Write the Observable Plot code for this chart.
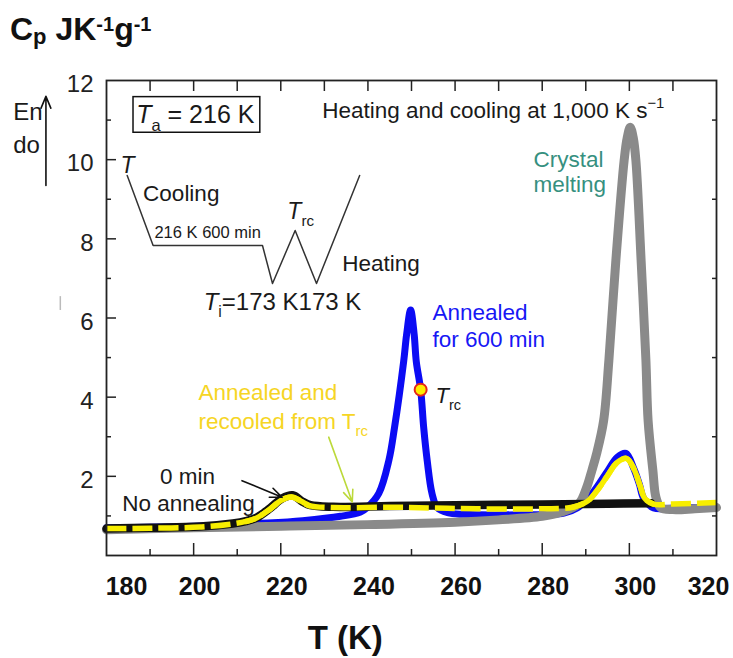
<!DOCTYPE html>
<html><head><meta charset="utf-8">
<script src="https://cdn.jsdelivr.net/npm/d3@7"></script>
<script src="https://cdn.jsdelivr.net/npm/@observablehq/plot@0.6"></script>
<style>
body{margin:0;background:#fff;}
#wrap{position:relative;width:733px;height:658px;font-family:"Liberation Sans",Arial,sans-serif;color:#111;overflow:hidden;}
#title{position:absolute;left:10px;top:13px;font-weight:bold;font-size:32px;line-height:1;white-space:nowrap;}
#title .sb{font-size:22px;vertical-align:-4px;}
#title .sp{font-size:20px;vertical-align:9px;}
#chart{position:absolute;left:0;top:58px;}
</style></head><body>
<div id="wrap"><div id="title">C<span class="sb">p</span> JK<span class="sp">-1</span>g<span class="sp">-1</span></div><div id="chart"></div></div>
<script>
// ---- data (T in K, Cp in J K^-1 g^-1) ----
const grayT  = [180,200,220,240,260,270,280,284.2,288.4,290.2,291.4,292.5,294.1,295.3,296.9,298.8,299.5,300.2,300.9,301.5,302.7,303.8,304.3,305.4,306.1,307.2,310,315,320];
const grayCp = [0.65,0.7,0.74,0.78,0.84,0.9,0.99,1.09,1.31,1.72,2.15,2.58,3.41,4.93,7.45,9.98,10.55,10.82,10.55,9.98,7.45,4.93,3.41,2.15,1.47,1.21,1.16,1.18,1.21];
const blueT  = [180,200,217,225,233.7,238.3,239.8,242.5,244.8,246.1,248.2,248.9,249.8,250.6,251.1,252.1,252.8,253.6,254.7,255.9,258.3,262,275,285,288,290.5,293,295.1,297.2,299.2,301,302.3,303.3,305.6,310,320];
const blueCp = [0.7,0.74,0.82,0.88,0.99,1.1,1.21,1.57,2.4,3.23,4.9,5.6,6.2,5.6,4.9,4.19,3.23,2.4,1.57,1.21,1.08,1.04,1.03,1.07,1.2,1.44,1.8,2.15,2.48,2.58,2.2,1.8,1.44,1.2,1.2,1.22];
const blackT  = [180,190,201.5,209,212,214.5,217.5,220.3,222.7,225,226.8,232,245,260,280,295,305];
const blackCp = [0.68,0.7,0.73,0.81,0.87,0.96,1.19,1.44,1.52,1.36,1.27,1.23,1.25,1.27,1.29,1.31,1.32];
const yellowT  = [180,190,201.5,209,212,214.5,217.5,220.3,222.5,224.5,226.5,232,245,255,265,280,287,290.5,293,295,297.2,299.4,301,302.5,303.5,305.5,310,320];
const yellowCp = [0.68,0.69,0.72,0.8,0.86,0.95,1.17,1.41,1.48,1.38,1.26,1.21,1.22,1.2,1.18,1.18,1.22,1.38,1.7,2.02,2.35,2.45,2.2,1.75,1.45,1.3,1.3,1.34];
const yellowSolid = [[212,228],[286,306]];
const trcPoint = [{T:252.1, cp:4.19}];

// ticks
const xLabels = [180,200,220,240,260,280,300,320];
const xMajor = [200,220,240,260,280,300];
const xMinor = [190,210,230,250,270,290,310];
const xTop = [190,200,210,220,230,240,250,260,270,280,290,300,310];
const yLabels = [2,4,6,8,10,12];
const yMajor = [2,4,6,8,10];
const yMinor = [1,3,5,7,9,11];

// schematic of the thermal protocol (in data coordinates)
const schemeT  = [184.75,190.7,215.8,218.1,223.3,228.2,238.1];
const schemeCp = [9.6,7.83,7.83,6.87,8.21,6.87,9.6];

// annotations (*x* italic, _{x} subscript, ^{x} superscript)
const notes = [
  {text:"Heating and cooling at 1,000 K s^{\u22121}", T:229.5, cp:11.24, size:22.5, color:"#1a1a1a"},
  {text:"*T*_{a} = 216 K", T:186.8, cp:11.12, size:25, color:"#1a1a1a"},
  {text:"*T*", T:183.2, cp:9.85, size:23, color:"#1a1a1a"},
  {text:"Cooling", T:188.4, cp:9.15, size:22.5, color:"#1a1a1a"},
  {text:"216 K 600 min", T:191.0, cp:8.15, size:16.5, color:"#1a1a1a"},
  {text:"*T*_{rc}", T:221.5, cp:8.69, size:23, color:"#1a1a1a"},
  {text:"Heating", T:234.1, cp:7.38, size:22.5, color:"#1a1a1a"},
  {text:"*T*_{i}=173 K173 K", T:202.3, cp:6.39, size:24, color:"#1a1a1a"},
  {text:"Crystal\nmelting", T:278.0, cp:9.71, size:22.5, color:"#36907f", lh:1.11},
  {text:"Annealed\nfor 600 min", T:254.8, cp:5.82, size:22.5, color:"#1717f5", lh:1.2},
  {text:"Annealed and\nrecooled from T_{rc}", T:201.1, cp:3.8, size:22.5, color:"#f6d524", lh:1.29},
  {text:"0 min", T:192.3, cp:2.0, size:22.5, color:"#1a1a1a"},
  {text:"No annealing", T:183.6, cp:1.31, size:22.5, color:"#1a1a1a"},
  {text:"*T*_{rc}", T:255.5, cp:4.02, size:22, color:"#1a1a1a"},
  {text:"En\ndo", T:158.6, cp:10.85, size:24, color:"#1a1a1a", lh:1.37}
];
const boxRect = [{x1:186.2, x2:215.3, y1:10.68, y2:11.58}];
const arrows = [
  {x1:166.1, y1:9.35, x2:166.1, y2:11.6, color:"#111"},
  {x1:211.1, y1:1.89, x2:220.3, y2:1.47, color:"#111"},
  {x1:231.0, y1:2.99, x2:236.4, y2:1.35, color:"#bcd93a"}
];
const strayMark = [{T:169.4, y1:6.19, y2:6.54}];

const toRows = (T, C) => T.map((t, i) => ({T: t, cp: C[i]}));
const gray = toRows(grayT, grayCp);
const blue = toRows(blueT, blueCp);
const black = toRows(blackT, blackCp);
const yellow = toRows(yellowT, yellowCp);
const yellowPeaks = yellowSolid.map(([a, b]) => yellow.filter(d => d.T >= a && d.T <= b));

const sans = "'Liberation Sans',Arial,sans-serif";

const textMarks = notes.map(n => Plot.text([n], {
  x: "T", y: "cp", text: "text", fontSize: n.size, fill: n.color,
  textAnchor: "start", lineAnchor: "middle", lineHeight: n.lh ?? 1, fontFamily: sans
}));

const labelAxis = (ticks, dx) => Plot.axisX(ticks, {anchor: "bottom", tickSize: 0, tickPadding: 22, label: null, dx, fontSize: 25, fontWeight: "bold", fontFamily: sans, fill: "#111"});
const tickOpts = {tickFormat: () => "", label: null, stroke: "#222", strokeWidth: 1.5};

const plot = Plot.plot({
  width: 733, height: 600,
  marginLeft: 106, marginRight: 17, marginTop: 22, marginBottom: 103,
  x: {domain: [180, 320], label: null},
  y: {domain: [0, 12], label: null},
  style: {fontFamily: sans, background: "#fff", color: "#1a1a1a", overflow: "visible"},
  marks: [
    Plot.line(blue, {x: "T", y: "cp", stroke: "#0b0bf4", strokeWidth: 7, curve: "catmull-rom"}),
    Plot.line(gray, {x: "T", y: "cp", stroke: "#8a8a8a", strokeWidth: 9, curve: "catmull-rom"}),
    Plot.line(black, {x: "T", y: "cp", stroke: "#111", strokeWidth: 8.5, curve: "catmull-rom"}),
    Plot.line(yellow, {x: "T", y: "cp", stroke: "#f7ee00", strokeWidth: 5.5, curve: "catmull-rom", strokeDasharray: "20,6", strokeLinecap: "butt"}),
    ...yellowPeaks.map(seg => Plot.line(seg, {x: "T", y: "cp", stroke: "#f7ee00", strokeWidth: 5.5, curve: "catmull-rom"})),
    Plot.dot(trcPoint, {x: "T", y: "cp", r: 6, fill: "#ffee00", stroke: "#e4261c", strokeWidth: 2}),
    Plot.line(toRows(schemeT, schemeCp), {x: "T", y: "cp", stroke: "#333", strokeWidth: 1.5, curve: "linear"}),
    Plot.rect(boxRect, {x1: "x1", x2: "x2", y1: "y1", y2: "y2", fill: "none", stroke: "#111", strokeWidth: 1.5}),
    Plot.arrow(arrows, {x1: "x1", y1: "y1", x2: "x2", y2: "y2", stroke: "color", strokeWidth: 1.6, headLength: 12, headAngle: 45}),
    Plot.ruleX(strayMark, {x: "T", y1: "y1", y2: "y2", stroke: "#bbb", strokeWidth: 1.5}),
    ...textMarks,
    Plot.frame({stroke: "#222", strokeWidth: 1.8}),
    Plot.axisX(xMajor, {anchor: "bottom", tickSize: -12, ...tickOpts}),
    Plot.axisX(xMinor, {anchor: "bottom", tickSize: -6, ...tickOpts}),
    Plot.axisX(xTop, {anchor: "top", tickSize: -10, ...tickOpts}),
    labelAxis([180], 20),
    labelAxis(xLabels.slice(1, -1), 6),
    labelAxis([320], -8),
    Plot.axisY(yMajor, {anchor: "left", tickSize: -10, ...tickOpts}),
    Plot.axisY(yMinor, {anchor: "left", tickSize: -5, ...tickOpts}),
    Plot.axisY(yMinor, {anchor: "right", tickSize: -5, ...tickOpts}),
    Plot.axisY(yLabels, {anchor: "left", tickSize: 0, tickPadding: 13, label: null, dy: 4, fontSize: 24, fontFamily: sans, fill: "#222"}),
    Plot.text(["T (K)"], {x: [234.8], frameAnchor: "bottom", dy: 83, lineAnchor: "middle", textAnchor: "middle", fontSize: 33, fontWeight: "bold", fontFamily: sans, fill: "#111"})
  ]
});
document.getElementById("chart").appendChild(plot);

// turn *italic*, _{sub} and ^{sup} markup into tspans
const NS = "http://www.w3.org/2000/svg";
plot.querySelectorAll("text").forEach(t => {
  const targets = t.querySelector("tspan") ? Array.from(t.querySelectorAll("tspan")) : [t];
  targets.forEach(el => {
    const s = el.textContent;
    if (!/[_^]\{|\*/.test(s)) return;
    const fs = parseFloat(getComputedStyle(el).fontSize);
    el.textContent = "";
    let shift = 0;
    const add = (txt, o = {}) => {
      const ts = document.createElementNS(NS, "tspan");
      ts.textContent = txt;
      const target = o.shift || 0;
      if (target !== shift) { ts.setAttribute("dy", (target - shift).toFixed(2)); shift = target; }
      if (o.size) ts.setAttribute("font-size", o.size.toFixed(1));
      if (o.italic) ts.setAttribute("font-style", "italic");
      el.appendChild(ts);
    };
    const re = /\*([^*]+)\*|_\{([^}]*)\}|\^\{([^}]*)\}/g;
    let last = 0, m;
    while ((m = re.exec(s))) {
      if (m.index > last) add(s.slice(last, m.index));
      if (m[1] !== undefined) add(m[1], {italic: true});
      else if (m[2] !== undefined) add(m[2], {shift: 0.3 * fs, size: 0.66 * fs});
      else add(m[3], {shift: -0.42 * fs, size: 0.66 * fs});
      last = re.lastIndex;
    }
    if (last < s.length) add(s.slice(last));
  });
});
</script>
</body></html>
